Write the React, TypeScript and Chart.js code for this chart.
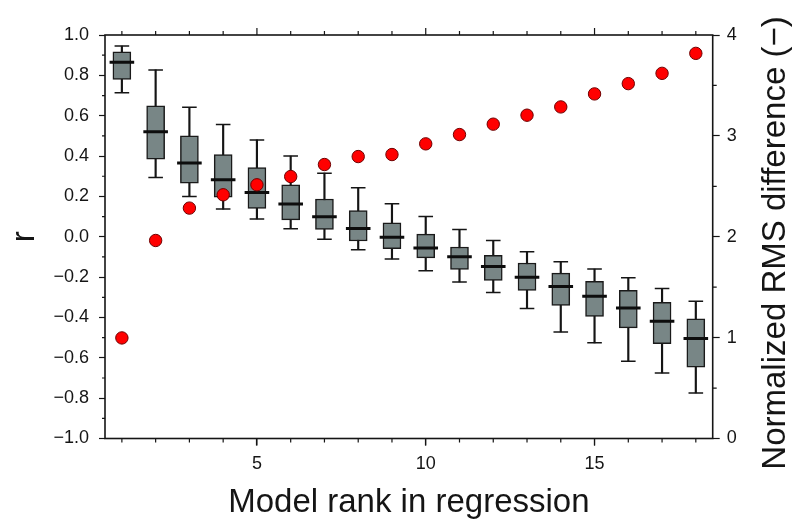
import React, { useEffect, useRef } from 'react';
import { Chart, registerables } from 'chart.js';

Chart.register(...registerables);

// ---- data ----
const ranks = [1, 2, 3, 4, 5, 6, 7, 8, 9, 10, 11, 12, 13, 14, 15, 16, 17, 18];
const whiskerHigh = [0.945, 0.827, 0.642, 0.556, 0.48, 0.4, 0.315, 0.243, 0.163, 0.1, 0.036, -0.018, -0.074, -0.124, -0.16, -0.203, -0.257, -0.32];
const q3 = [0.917, 0.649, 0.5, 0.407, 0.343, 0.257, 0.187, 0.13, 0.069, 0.013, -0.051, -0.092, -0.13, -0.18, -0.221, -0.266, -0.325, -0.407];
const medians = [0.865, 0.521, 0.365, 0.282, 0.219, 0.162, 0.099, 0.041, -0.003, -0.056, -0.099, -0.147, -0.201, -0.246, -0.295, -0.353, -0.419, -0.504];
const q1 = [0.78, 0.385, 0.266, 0.196, 0.14, 0.084, 0.036, -0.021, -0.059, -0.105, -0.162, -0.217, -0.266, -0.34, -0.395, -0.452, -0.53, -0.647];
const whiskerLow = [0.714, 0.294, 0.2, 0.137, 0.088, 0.04, -0.013, -0.064, -0.11, -0.168, -0.224, -0.276, -0.356, -0.472, -0.526, -0.617, -0.675, -0.774];
const rmsDiff = [0.997, 1.963, 2.284, 2.416, 2.515, 2.597, 2.716, 2.795, 2.815, 2.921, 3.013, 3.116, 3.205, 3.287, 3.416, 3.518, 3.62, 3.818];

const xTicks = [5, 10, 15];
const xMinorTicks = ranks;
const yTicks = [-1, -0.8, -0.6, -0.4, -0.2, 0, 0.2, 0.4, 0.6, 0.8, 1];
const yMinorTicks = [-0.9, -0.7, -0.5, -0.3, -0.1, 0.1, 0.3, 0.5, 0.7, 0.9];
const y2Ticks = [0, 1, 2, 3, 4];
const y2MinorTicks = [0.5, 1.5, 2.5, 3.5];

const xTitle = 'Model rank in regression';
const yTitle = 'r';
const y2Title = 'Normalized RMS difference (\u2212)';

const FONT = "'Liberation Sans', Arial, Helvetica, sans-serif";
const INK = '#151515';

const framePlugin = {
  id: 'framePlugin',
  afterDraw(chart: any) {
    const { ctx, chartArea: a, scales } = chart;
    const x = scales.x, y = scales.y, y2 = scales.y2;
    ctx.save();
    ctx.strokeStyle = INK;
    ctx.lineWidth = 1.2;
    ctx.beginPath();
    xMinorTicks.forEach((v) => {
      const px = x.getPixelForValue(v);
      const len = xTicks.includes(v) ? 7 : 4;
      ctx.moveTo(px, a.bottom);
      ctx.lineTo(px, a.bottom + len);
      ctx.moveTo(px, a.top);
      ctx.lineTo(px, a.top - len);
    });
    yMinorTicks.forEach((v) => {
      const py = y.getPixelForValue(v);
      ctx.moveTo(a.left, py);
      ctx.lineTo(a.left - 3, py);
    });
    y2MinorTicks.forEach((v) => {
      const py = y2.getPixelForValue(v);
      ctx.moveTo(a.right, py);
      ctx.lineTo(a.right + 4, py);
    });
    ctx.stroke();
    ctx.lineWidth = 1.6;
    ctx.strokeRect(a.left, a.top, a.right - a.left, a.bottom - a.top);

    // right axis title, reading bottom to top
    ctx.fillStyle = INK;
    ctx.font = `33px ${FONT}`;
    ctx.textAlign = 'center';
    ctx.textBaseline = 'alphabetic';
    ctx.translate(785, 243);
    ctx.rotate(-Math.PI / 2);
    ctx.fillText(y2Title, 0, 0);
    ctx.restore();
  },
};

export default function App() {
  const ref = useRef<HTMLCanvasElement | null>(null);

  useEffect(() => {
    if (!ref.current) return;
    const chart = new Chart(ref.current, {
      type: 'scatter',
      data: {
        datasets: [
          {
            type: 'scatter',
            label: 'RMS',
            data: ranks.map((r, i) => ({ x: r, y: rmsDiff[i] })),
            yAxisID: 'y2',
            pointRadius: 6.2,
            pointBackgroundColor: '#ff0000',
            pointBorderColor: '#6e0000',
            pointBorderWidth: 1,
            showLine: false,
            order: 1,
          },
          {
            type: 'scatter',
            label: 'median',
            data: ranks.map((r, i) => ({ x: r, y: medians[i] })),
            yAxisID: 'y',
            pointStyle: 'line',
            pointRadius: 12.3,
            pointBorderWidth: 3,
            pointBorderColor: '#0d0d0d',
            showLine: false,
            order: 2,
          },
          {
            type: 'scatter',
            label: 'caps',
            data: [
              ...ranks.map((r, i) => ({ x: r, y: whiskerHigh[i] })),
              ...ranks.map((r, i) => ({ x: r, y: whiskerLow[i] })),
            ],
            yAxisID: 'y',
            pointStyle: 'line',
            pointRadius: 7.3,
            pointBorderWidth: 1.5,
            pointBorderColor: INK,
            showLine: false,
            order: 3,
          },
          {
            type: 'bar',
            label: 'box',
            data: ranks.map((r, i) => ({ x: r, y: [q1[i], q3[i]] })) as any,
            yAxisID: 'y',
            barThickness: 18,
            backgroundColor: '#788686',
            borderColor: '#1a1a1a',
            borderWidth: 1.5,
            borderSkipped: false,
            grouped: false,
            order: 4,
          } as any,
          {
            type: 'bar',
            label: 'whisker',
            data: ranks.map((r, i) => ({ x: r, y: [whiskerLow[i], whiskerHigh[i]] })) as any,
            yAxisID: 'y',
            barThickness: 1.5,
            backgroundColor: INK,
            borderWidth: 0,
            grouped: false,
            order: 5,
          } as any,
        ],
      },
      options: {
        responsive: false,
        animation: false,
        devicePixelRatio: 1,
        events: [],
        layout: { padding: { top: 35, left: 0, right: 0, bottom: 0 } },
        plugins: { legend: { display: false }, tooltip: { enabled: false } },
        scales: {
          x: {
            type: 'linear',
            min: 0.5,
            max: 18.5,
            offset: false,
            afterBuildTicks: (s: any) => {
              s.ticks = xTicks.map((v) => ({ value: v }));
            },
            afterFit: (s: any) => {
              s.height = 84.5;
            },
            grid: {
              display: true,
              offset: false,
              drawOnChartArea: false,
              drawTicks: true,
              tickLength: 7,
              tickColor: INK,
              tickWidth: 1.2,
            },
            border: { display: false },
            ticks: {
              color: INK,
              font: { family: FONT, size: 18 },
              padding: 8,
              maxRotation: 0,
              callback: (v: any) => String(v),
            },
            title: {
              display: true,
              text: xTitle,
              color: INK,
              font: { family: FONT, size: 33 },
              padding: { top: 0, bottom: 0 },
            },
          },
          y: {
            type: 'linear',
            position: 'left',
            min: -1,
            max: 1,
            afterBuildTicks: (s: any) => {
              s.ticks = yTicks.map((v) => ({ value: v }));
            },
            afterFit: (s: any) => {
              s.width = 105;
            },
            grid: {
              display: true,
              drawOnChartArea: false,
              drawTicks: true,
              tickLength: 6,
              tickColor: INK,
              tickWidth: 1.2,
            },
            border: { display: false },
            ticks: {
              color: INK,
              font: { family: FONT, size: 18 },
              padding: 10,
              callback: (v: any) => Number(v).toFixed(1).replace('-', '\u2212'),
            },
            title: {
              display: true,
              text: yTitle,
              color: INK,
              font: { family: FONT, size: 33 },
              padding: { top: 5, bottom: 0 },
            },
          },
          y2: {
            type: 'linear',
            position: 'right',
            min: 0,
            max: 4,
            afterBuildTicks: (s: any) => {
              s.ticks = y2Ticks.map((v) => ({ value: v }));
            },
            afterFit: (s: any) => {
              s.width = 83.3;
            },
            grid: {
              display: true,
              drawOnChartArea: false,
              drawTicks: true,
              tickLength: 7,
              tickColor: INK,
              tickWidth: 1.2,
            },
            border: { display: false },
            ticks: {
              color: INK,
              font: { family: FONT, size: 18 },
              padding: 7,
              callback: (v: any) => String(v),
            },
            title: { display: false },
          },
        },
      } as any,
      plugins: [framePlugin],
    });
    return () => chart.destroy();
  }, []);

  return (
    <div style={{ position: 'fixed', left: 0, top: 0, width: 796, height: 523, background: '#fff' }}>
      <canvas ref={ref} width={796} height={523} style={{ width: 796, height: 523, display: 'block' }} />
    </div>
  );
}
